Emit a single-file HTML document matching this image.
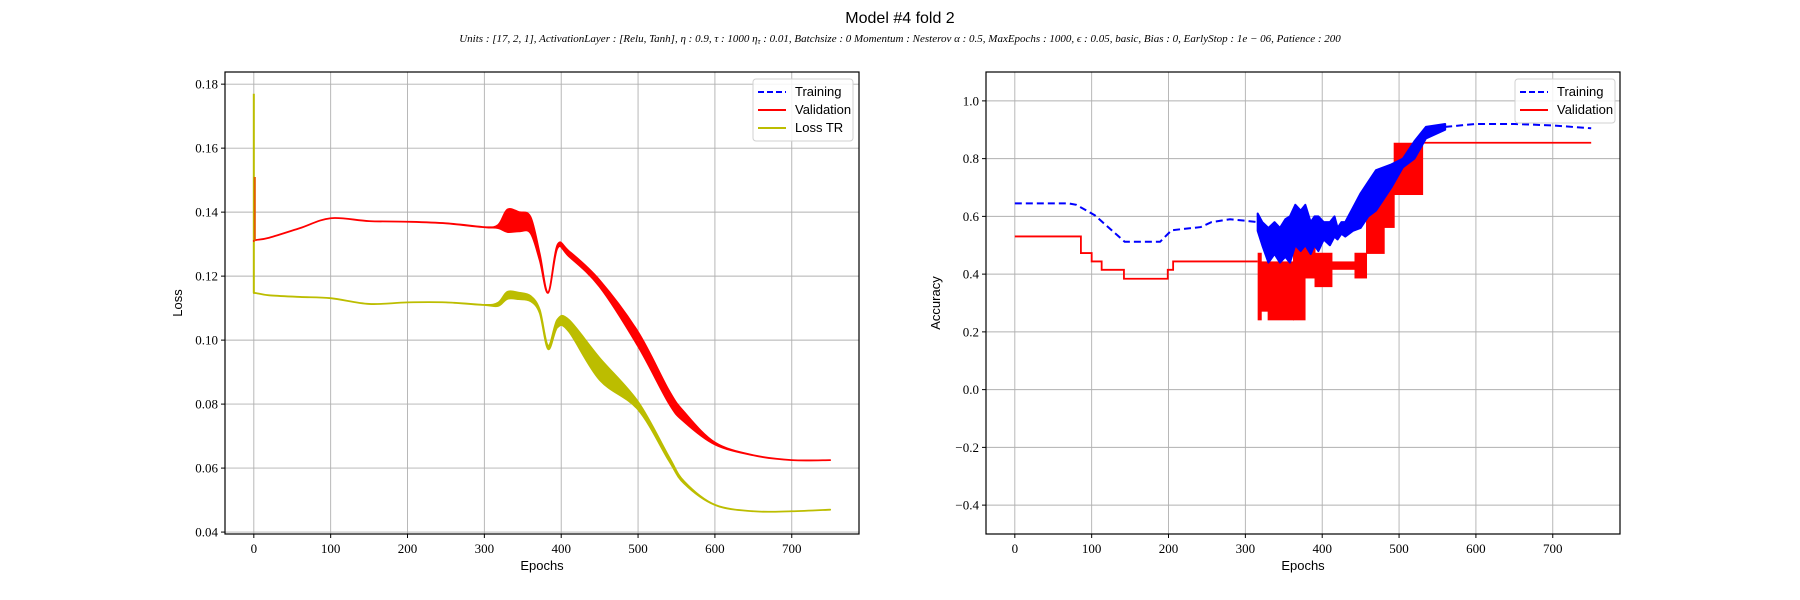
<!DOCTYPE html>
<html><head><meta charset="utf-8"><style>
html,body{margin:0;padding:0;background:#fff;}
svg{display:block;}
.tick{font-family:"Liberation Serif",serif;font-size:13px;fill:#000;}
.lab{font-family:"Liberation Sans",sans-serif;font-size:13px;fill:#000;}
</style></head><body>
<svg id="fig" width="1800" height="600" viewBox="0 0 1800 600" xmlns="http://www.w3.org/2000/svg">
<text x="900" y="23" text-anchor="middle" font-family="Liberation Sans, sans-serif" font-size="16">Model #4 fold 2</text>
<text x="900" y="42" text-anchor="middle" font-family="Liberation Serif, serif" font-style="italic" font-size="11">Units : [17, 2, 1], ActivationLayer : [Relu, Tanh], η : 0.9, τ : 1000 η<tspan font-size="8" dy="2">τ</tspan><tspan dy="-2"> : 0.01, Batchsize : 0 Momentum : Nesterov α : 0.5, MaxEpochs : 1000, ϵ : 0.05, basic, Bias : 0, EarlyStop : 1e − 06, Patience : 200</tspan></text>
<g id="left"></g>
<g id="right"></g>
</svg>
<script>
// ---- Loss chart data ----
const lossEpochs = [0,3,20,60,100,150,200,250,300,318,330,345,360,372,383,395,410,450,500,540,560,600,650,700,750];
const valLoss    = [0.131,0.1313,0.132,0.135,0.1381,0.1372,0.137,0.1365,0.1353,0.1355,0.1373,0.137,0.136,0.126,0.1148,0.1292,0.127,0.1177,0.1003,0.0823,0.076,0.0677,0.064,0.0625,0.0625];
const valLossAmp = [0,0,0,0,0,0,0,0,0,0.0005,0.0035,0.003,0.0025,0.001,0,0.0005,0.0008,0.001,0.0022,0.002,0.0015,0.0003,0,0,0];
const trLoss     = [0.1147,0.1147,0.114,0.1135,0.1131,0.1113,0.1118,0.1118,0.111,0.1112,0.114,0.1138,0.113,0.109,0.0977,0.1052,0.1045,0.091,0.0795,0.063,0.0555,0.0485,0.0465,0.0465,0.047];
const trLossAmp  = [0,0,0,0,0,0,0,0,0,0.0005,0.0011,0.001,0.0008,0.0005,0.0005,0.0012,0.0018,0.0034,0.0012,0.0006,0.0003,0,0,0,0];
const lossSpikeVal = 0.151, lossSpikeTr = 0.177;
const lossYTicks = [0.04,0.06,0.08,0.10,0.12,0.14,0.16,0.18];
const xTicks = [0,100,200,300,400,500,600,700];
// ---- Accuracy chart data ----
const accTrEpochs1 = [0,70,80,104,143,189,204,242,256,280,300,316];
const accTr1       = [0.645,0.645,0.64,0.604,0.512,0.512,0.552,0.563,0.58,0.59,0.585,0.58];
const accTrEpochs2 = [560,600,650,700,750];
const accTr2       = [0.91,0.92,0.92,0.915,0.905];
const accTrBandEpochs = [316,322,330,338,345,352,358,365,372,378,385,390,395,402,410,416,420,425,430,440,450,460,470,480,490,505,520,535,560];
const accTrBandLo     = [0.55,0.5,0.44,0.47,0.44,0.46,0.44,0.5,0.48,0.5,0.47,0.5,0.48,0.52,0.5,0.53,0.52,0.54,0.53,0.55,0.56,0.6,0.62,0.66,0.7,0.77,0.8,0.87,0.9];
const accTrBandHi     = [0.61,0.58,0.56,0.58,0.56,0.59,0.6,0.64,0.62,0.64,0.58,0.6,0.6,0.58,0.58,0.6,0.56,0.58,0.58,0.63,0.68,0.72,0.76,0.77,0.78,0.8,0.86,0.91,0.92];
const accValStepEpochs = [0,86,100,113,142,199,206,316];
const accValStep       = [0.5305,0.473,0.444,0.415,0.384,0.415,0.444,0.444];
const accValBandStart = [316,320,329,362,377,390,412,442,457,480,493];
const accValBandLo    = [0.24,0.27,0.24,0.24,0.385,0.355,0.415,0.385,0.47,0.56,0.674];
const accValBandHi    = [0.474,0.444,0.444,0.53,0.53,0.474,0.444,0.474,0.68,0.71,0.855];
const accValBandEnd = 530;
const accValFinal = 0.855;
const accYTicks = [-0.4,-0.2,0.0,0.2,0.4,0.6,0.8,1.0];

const NS="http://www.w3.org/2000/svg";
function mk(parent,tag,attrs){const e=document.createElementNS(NS,tag);for(const k in attrs)e.setAttribute(k,attrs[k]);parent.appendChild(e);return e;}
function axes(g,left,right,top,bottom,ymin,ymax,yTicks,yFmt,ylabel,ylabelX){
  const xs=e=>left+(e+37.5)/825*(right-left);
  const ys=v=>bottom-(v-ymin)/(ymax-ymin)*(bottom-top);
  for(const t of xTicks){
    const l=mk(g,'line',{x1:xs(t),x2:xs(t),y1:top,y2:bottom,stroke:'#b0b0b0','stroke-width':0.9});
    
    
    mk(g,'line',{x1:xs(t),x2:xs(t),y1:bottom,y2:bottom+4,stroke:'#000','stroke-width':1});
    const tx=mk(g,'text',{x:xs(t),y:bottom+19,'text-anchor':'middle',class:'tick'});tx.textContent=t;
    
    
  }
  for(const t of yTicks){
    const l=mk(g,'line',{x1:left,x2:right,y1:ys(t),y2:ys(t),stroke:'#b0b0b0','stroke-width':0.9});
    
    
    mk(g,'line',{x1:left-4,x2:left,y1:ys(t),y2:ys(t),stroke:'#000','stroke-width':1});
    const tx=mk(g,'text',{x:left-7,y:ys(t)+4.5,'text-anchor':'end',class:'tick'});tx.textContent=yFmt(t);
    
    
  }
  const xl=mk(g,'text',{x:(left+right)/2,y:570,'text-anchor':'middle',class:'lab'});xl.textContent='Epochs';
  
  
  const yl=mk(g,'text',{x:ylabelX,y:(top+bottom)/2,'text-anchor':'middle',class:'lab',transform:`rotate(-90 ${ylabelX} ${(top+bottom)/2})`});yl.textContent=ylabel;
  
  
  return {xs,ys};
}
function frame(g,left,right,top,bottom){
  const r=mk(g,'rect',{x:left,y:top,width:right-left,height:bottom-top,fill:'none',stroke:'#000','stroke-width':1.2});
  
  
}
// Catmull-Rom smoothing through pixel points
function smooth(pts,start){
  let d=start?('M'+pts[0][0]+','+pts[0][1]):('L'+pts[0][0]+','+pts[0][1]);
  for(let i=0;i<pts.length-1;i++){
    const p0=pts[Math.max(0,i-1)],p1=pts[i],p2=pts[i+1],p3=pts[Math.min(pts.length-1,i+2)];
    const c1x=p1[0]+(p2[0]-p0[0])/6,c1y=p1[1]+(p2[1]-p0[1])/6;
    const c2x=p2[0]-(p3[0]-p1[0])/6,c2y=p2[1]-(p3[1]-p1[1])/6;
    d+=`C${c1x},${c1y} ${c2x},${c2y} ${p2[0]},${p2[1]}`;
  }
  return d;
}
function bandPath(xs,ys,ep,c,amp){
  const up=ep.map((e,i)=>[xs(e),ys(c[i]+amp[i])]);
  const lo=ep.map((e,i)=>[xs(e),ys(c[i]-amp[i])]).reverse();
  return smooth(up,true)+smooth(lo,false)+'Z';
}
function legend(g,x,y,w,items){
  const h=items.length*18+8;
  const r=mk(g,'rect',{x:x,y:y,width:w,height:h,fill:'#fff','fill-opacity':0.85,stroke:'#d0d0d0',rx:3});
  
  
  items.forEach((it,i)=>{
    const yy=y+13+i*18;
    mk(g,'line',{x1:x+5,x2:x+33,y1:yy,y2:yy,stroke:it[1],'stroke-width':2,'stroke-dasharray':it[2]?'6,3':'none'});
    const t=mk(g,'text',{x:x+42,y:yy+4,class:'lab','font-size':12});t.textContent=it[0];
    
    
  });
}
// LEFT
(function(){
  const g=document.getElementById('left');
  const L=225,R=859,T=72,B=534;
  const {xs,ys}=axes(g,L,R,T,B,0.0394,0.1838,lossYTicks,v=>v.toFixed(2),'Loss',182);
  const ltr=mk(g,'path',{d:bandPath(xs,ys,lossEpochs,trLoss,trLossAmp),fill:'#bcbd00',stroke:'#bcbd00','stroke-width':1.8,'stroke-linejoin':'round'});
  
  
  mk(g,'line',{x1:xs(0),x2:xs(0),y1:ys(lossSpikeTr),y2:ys(trLoss[0]),stroke:'#bcbd00','stroke-width':2});
  const v=mk(g,'path',{d:bandPath(xs,ys,lossEpochs,valLoss,valLossAmp),fill:'#ff0000',stroke:'#ff0000','stroke-width':1.8,'stroke-linejoin':'round'});
  
  
  mk(g,'line',{x1:xs(0)+1,x2:xs(0)+1,y1:ys(lossSpikeVal),y2:ys(valLoss[0]),stroke:'#e06000','stroke-width':2});
  frame(g,L,R,T,B);
  legend(g,753,79,100,[['Training','#0000ff',true],['Validation','#ff0000',false],['Loss TR','#bcbd00',false]]);
})();
// RIGHT
(function(){
  const g=document.getElementById('right');
  const L=986,R=1620,T=72,B=534;
  const {xs,ys}=axes(g,L,R,T,B,-0.5,1.1,accYTicks,v=>v.toFixed(1).replace('-','−'),'Accuracy',940);
  let d='M'+xs(accValStepEpochs[0])+','+ys(accValStep[0]);
  for(let i=1;i<accValStepEpochs.length;i++){d+='H'+xs(accValStepEpochs[i])+'V'+ys(accValStep[i]);}
  const vs=mk(g,'path',{d:d,fill:'none',stroke:'#ff0000','stroke-width':1.8});
  
  
  for(let i=0;i<accValBandStart.length;i++){
    const e1=accValBandStart[i], e2=(i+1<accValBandStart.length)?accValBandStart[i+1]:accValBandEnd;
    const r=mk(g,'rect',{x:xs(e1),y:ys(accValBandHi[i]),width:xs(e2)-xs(e1)+1,height:ys(accValBandLo[i])-ys(accValBandHi[i]),fill:'#ff0000'});
    
    
  }
  const vf=mk(g,'line',{x1:xs(accValBandEnd),x2:xs(750),y1:ys(accValFinal),y2:ys(accValFinal),stroke:'#ff0000','stroke-width':1.8});
  
  
  const t1=mk(g,'polyline',{points:accTrEpochs1.map((e,i)=>xs(e)+','+ys(accTr1[i])).join(' '),fill:'none',stroke:'#0000ff','stroke-width':2,'stroke-dasharray':'7,4'});
  
  
  const up=accTrBandEpochs.map((e,i)=>xs(e)+','+ys(accTrBandHi[i]));
  const lo=accTrBandEpochs.map((e,i)=>xs(e)+','+ys(accTrBandLo[i])).reverse();
  const tb=mk(g,'path',{d:'M'+up.join('L')+'L'+lo.join('L')+'Z',fill:'#0000ff',stroke:'#0000ff','stroke-width':2,'stroke-linejoin':'round'});
  
  
  const t2=mk(g,'polyline',{points:accTrEpochs2.map((e,i)=>xs(e)+','+ys(accTr2[i])).join(' '),fill:'none',stroke:'#0000ff','stroke-width':2,'stroke-dasharray':'7,4'});
  
  
  frame(g,L,R,T,B);
  legend(g,1515,79,100,[['Training','#0000ff',true],['Validation','#ff0000',false]]);
})();
</script>
</body></html>
